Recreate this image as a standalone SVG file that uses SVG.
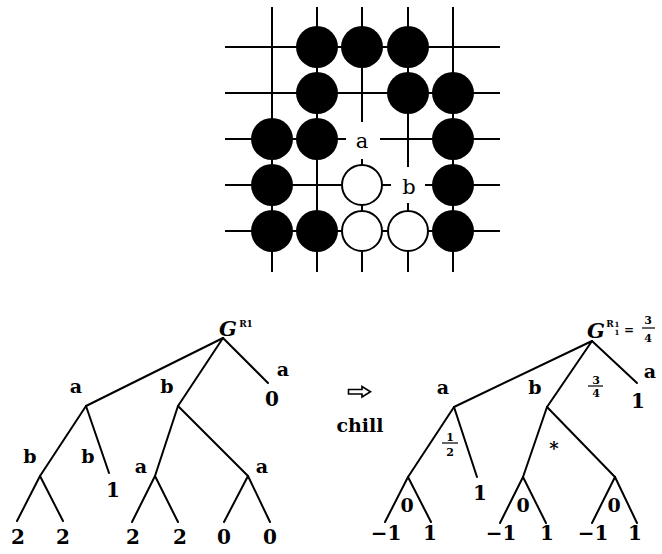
<svg xmlns="http://www.w3.org/2000/svg" width="662" height="554" viewBox="0 0 662 554">
  <style>
    .grid { stroke: #000; stroke-width: 2; fill: none; }
    .blk { fill: #000; }
    .wht { fill: #fff; stroke: #000; stroke-width: 2; }
    .edge { stroke: #000; stroke-width: 2; fill: none; stroke-linecap: round; }
    .bar { stroke: #000; stroke-width: 1.2; }
    .t { font-family: "DejaVu Serif", "Liberation Serif", serif; fill: #000; text-anchor: middle; font-weight: bold; }
    .pt { font-weight: normal; font-size: 21px; }
    .lbl { font-size: 19px; }
    .num { font-size: 20px; }
    .fr { font-size: 11px; }
    .xs { font-size: 9px; }
  </style>

  <!-- Go board position -->
  <g id="board">
    <g class="grid">
      <line x1="225" y1="47" x2="500" y2="47"/>
      <line x1="225" y1="93" x2="500" y2="93"/>
      <line x1="225" y1="139" x2="500" y2="139"/>
      <line x1="225" y1="185" x2="500" y2="185"/>
      <line x1="225" y1="231" x2="500" y2="231"/>
      <line x1="272" y1="7" x2="272" y2="272"/>
      <line x1="317" y1="7" x2="317" y2="272"/>
      <line x1="362" y1="7" x2="362" y2="272"/>
      <line x1="408" y1="7" x2="408" y2="272"/>
      <line x1="453" y1="7" x2="453" y2="272"/>
    </g>
    <!-- black stones -->
    <circle class="blk" cx="317" cy="47" r="21"/>
    <circle class="blk" cx="362" cy="47" r="21"/>
    <circle class="blk" cx="408" cy="47" r="21"/>
    <circle class="blk" cx="317" cy="93" r="21"/>
    <circle class="blk" cx="408" cy="93" r="21"/>
    <circle class="blk" cx="453" cy="93" r="21"/>
    <circle class="blk" cx="272" cy="139" r="21"/>
    <circle class="blk" cx="317" cy="139" r="21"/>
    <circle class="blk" cx="453" cy="139" r="21"/>
    <circle class="blk" cx="272" cy="185" r="21"/>
    <circle class="blk" cx="453" cy="185" r="21"/>
    <circle class="blk" cx="272" cy="231" r="21"/>
    <circle class="blk" cx="317" cy="231" r="21"/>
    <circle class="blk" cx="453" cy="231" r="21"/>
    <!-- white stones -->
    <circle class="wht" cx="362" cy="185" r="20"/>
    <circle class="wht" cx="362" cy="231" r="20"/>
    <circle class="wht" cx="408" cy="231" r="20"/>
    <!-- labelled points -->
    <rect x="346" y="122" width="34" height="37" fill="#fff"/>
    <text class="t pt" x="362" y="148">a</text>
    <rect x="391" y="167" width="34" height="36" fill="#fff"/>
    <text class="t pt" x="409" y="194">b</text>
  </g>

  <!-- connectors of both game trees -->
  <g id="edges" class="edge">
    <!-- left tree -->
    <line x1="223" y1="338" x2="86" y2="406"/>
    <line x1="223" y1="338" x2="178" y2="406"/>
    <line x1="223" y1="338" x2="268" y2="383"/>
    <line x1="86" y1="406" x2="40" y2="476"/>
    <line x1="86" y1="406" x2="109" y2="473"/>
    <line x1="40" y1="476" x2="17" y2="521"/>
    <line x1="40" y1="476" x2="63" y2="521"/>
    <line x1="178" y1="406" x2="155" y2="476"/>
    <line x1="178" y1="406" x2="248" y2="476"/>
    <line x1="155" y1="476" x2="132" y2="522"/>
    <line x1="155" y1="476" x2="178" y2="522"/>
    <line x1="248" y1="476" x2="224" y2="522"/>
    <line x1="248" y1="476" x2="270" y2="522"/>
    <!-- right tree -->
    <line x1="592" y1="341" x2="454" y2="407"/>
    <line x1="592" y1="341" x2="547" y2="407"/>
    <line x1="592" y1="341" x2="637" y2="383"/>
    <line x1="454" y1="407" x2="408" y2="477"/>
    <line x1="454" y1="407" x2="477" y2="477"/>
    <line x1="408" y1="477" x2="385" y2="522"/>
    <line x1="408" y1="477" x2="431" y2="522"/>
    <line x1="547" y1="407" x2="523" y2="477"/>
    <line x1="547" y1="407" x2="615" y2="477"/>
    <line x1="523" y1="477" x2="500" y2="523"/>
    <line x1="523" y1="477" x2="546" y2="523"/>
    <line x1="615" y1="477" x2="592" y2="523"/>
    <line x1="615" y1="477" x2="637" y2="523"/>
  </g>

  <!-- left tree: G^R1 -->
  <g id="left-root">
    <text class="t" font-size="21" font-style="italic" x="228" y="336">G</text>
    <text class="t xs" x="246" y="327">R1</text>
  </g>
  <g id="left-labels">
    <text class="t lbl" x="76" y="393">a</text>
    <text class="t lbl" x="167" y="393">b</text>
    <text class="t lbl" x="283" y="376">a</text>
    <text class="t num" x="272" y="406">0</text>
    <text class="t lbl" x="30" y="463">b</text>
    <text class="t lbl" x="88" y="463">b</text>
    <text class="t num" x="113" y="497">1</text>
    <text class="t lbl" x="141" y="473">a</text>
    <text class="t lbl" x="262" y="473">a</text>
  </g>
  <g id="left-leaves">
    <text class="t num" x="18" y="544">2</text>
    <text class="t num" x="63" y="544">2</text>
    <text class="t num" x="133" y="544">2</text>
    <text class="t num" x="180" y="544">2</text>
    <text class="t num" x="224" y="544">0</text>
    <text class="t num" x="270" y="544">0</text>
  </g>

  <!-- chill arrow -->
  <g id="chill">
    <polygon points="348.5,389.5 362,389.5 362,386.5 370.5,391.7 362,397 362,394 348.5,394" fill="#fff" stroke="#000" stroke-width="1.6" stroke-linejoin="miter"/>
    <text class="t" font-size="19" x="360" y="432">chill</text>
  </g>

  <!-- right tree: chilled values -->
  <g id="right-root">
    <text class="t" font-size="21" font-style="italic" x="596" y="338">G</text>
    <text class="t xs" x="610" y="327">R</text>
    <text class="t" font-size="7" x="617" y="327">1</text>
    <text class="t" font-size="7" x="617" y="335">1</text>
    <text class="t" font-size="12" x="629" y="334">=</text>
    <text class="t fr" x="648" y="324">3</text>
    <line class="bar" x1="642" y1="328" x2="655" y2="328"/>
    <text class="t fr" x="648" y="342">4</text>
  </g>
  <g id="right-labels">
    <text class="t lbl" x="443" y="394">a</text>
    <text class="t lbl" x="535" y="394">b</text>
    <text class="t fr" x="596" y="384">3</text>
    <line class="bar" x1="588" y1="386" x2="603" y2="386"/>
    <text class="t fr" x="596" y="397">4</text>
    <text class="t lbl" x="650" y="378">a</text>
    <text class="t num" x="638" y="408">1</text>
    <text class="t fr" x="450" y="441">1</text>
    <line class="bar" x1="442" y1="443" x2="458" y2="443"/>
    <text class="t fr" x="450" y="456">2</text>
    <text class="t num" x="480" y="500">1</text>
    <text class="t" font-size="18" x="554" y="455">*</text>
    <text class="t lbl" x="407" y="512">0</text>
    <text class="t lbl" x="523" y="512">0</text>
    <text class="t lbl" x="614" y="512">0</text>
  </g>
  <g id="right-leaves">
    <text class="t num" x="386" y="540">−1</text>
    <text class="t num" x="430" y="540">1</text>
    <text class="t num" x="501" y="540">−1</text>
    <text class="t num" x="547" y="540">1</text>
    <text class="t num" x="593" y="540">−1</text>
    <text class="t num" x="635" y="540">1</text>
  </g>
</svg>
